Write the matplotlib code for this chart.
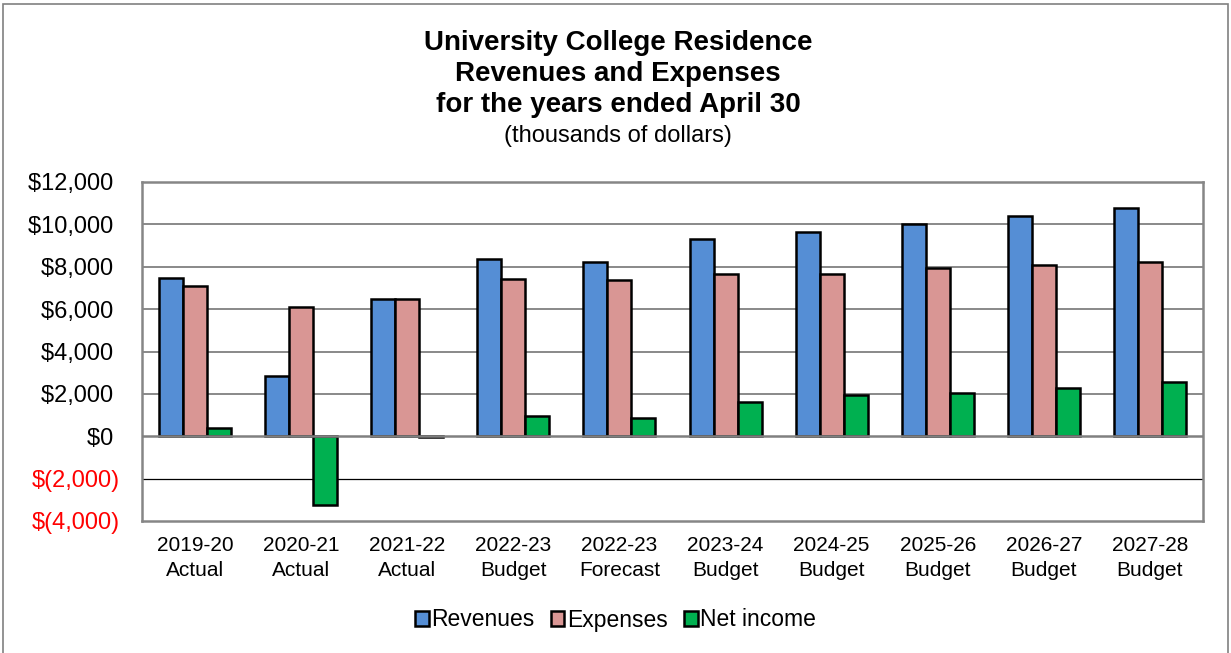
import numpy as np
import matplotlib.pyplot as plt
from matplotlib.patches import Rectangle

plt.rcParams['font.family'] = ['Liberation Sans', 'DejaVu Sans']

# Data (thousands of dollars)
years = ["2019-20", "2020-21", "2021-22", "2022-23", "2022-23",
         "2023-24", "2024-25", "2025-26", "2026-27", "2027-28"]
kinds = ["Actual", "Actual", "Actual", "Budget", "Forecast",
         "Budget", "Budget", "Budget", "Budget", "Budget"]
revenues = [7450, 2830, 6480, 8370, 8210, 9290, 9650, 10030, 10390, 10750]
expenses = [7070, 6080, 6480, 7400, 7360, 7660, 7680, 7940, 8090, 8210]
net_income = [400, -3250, -30, 940, 850, 1640, 1950, 2050, 2280, 2560]

series = [("Revenues", revenues, "#558ED5"),
          ("Expenses", expenses, "#D99694"),
          ("Net income", net_income, "#00B050")]

fig = plt.figure(figsize=(12.31, 6.53), dpi=100)
ax = fig.add_axes([142 / 1231, 1 - 521 / 653, 1061 / 1231, 339 / 653])

# grid lines drawn first
for v in [2000, 4000, 6000, 8000, 10000]:
    ax.axhline(v, color="#808080", lw=1.3, zorder=0)
ax.axhline(-2000, color="black", lw=0.9, zorder=0)
ax.axhline(0, color="#808080", lw=1.8, zorder=3)

x = np.arange(len(years))
w = 0.226
for i, (name, vals, col) in enumerate(series):
    ax.bar(x + (i - 1) * w, vals, w, color=col, edgecolor="black",
           linewidth=1.8, label=name, zorder=2)

ax.set_xlim(-0.5, len(years) - 0.5)
ax.set_ylim(-4000, 12000)

ticks = np.arange(-4000, 12001, 2000)
ax.set_yticks(ticks)
labels = []
for t in ticks:
    if t < 0:
        labels.append("$({:,})".format(-t))
    else:
        labels.append("${:,} ".format(t))
ax.set_yticklabels(labels, fontsize=17)
for lab, t in zip(ax.get_yticklabels(), ticks):
    lab.set_color("red" if t < 0 else "black")
ax.tick_params(axis="y", length=0, pad=16)

ax.set_xticks(x)
ax.set_xticklabels([f"{y}\n{k}" for y, k in zip(years, kinds)],
                   fontsize=15, linespacing=1.35)
ax.tick_params(axis="x", length=0, pad=11)

for s in ax.spines.values():
    s.set_color("#868686")
    s.set_linewidth(1.8)

# titles
fig.text(0.502, 1 - 43 / 653, "University College Residence", ha="center",
         va="center", fontsize=20, fontweight="bold")
fig.text(0.502, 1 - 74 / 653, "Revenues and Expenses", ha="center",
         va="center", fontsize=20, fontweight="bold")
fig.text(0.502, 1 - 105 / 653, "for the years ended April 30", ha="center",
         va="center", fontsize=20, fontweight="bold")
fig.text(0.502, 1 - 136 / 653, "(thousands of dollars)", ha="center",
         va="center", fontsize=17)

leg = fig.legend(loc="center", bbox_to_anchor=(0.5, 1 - 620 / 653), ncol=3,
                 frameon=False, fontsize=16.5, handlelength=0.6,
                 handleheight=0.6, handletextpad=0.12, columnspacing=0.7)

# outer chart border
fig.patches.append(Rectangle((3 / 1231, -0.01), 1225 / 1231, 1 - 4 / 653 + 0.01,
                             transform=fig.transFigure, fill=False,
                             edgecolor="#808080", lw=1.2))

fig.savefig("out.png", dpi=100)
